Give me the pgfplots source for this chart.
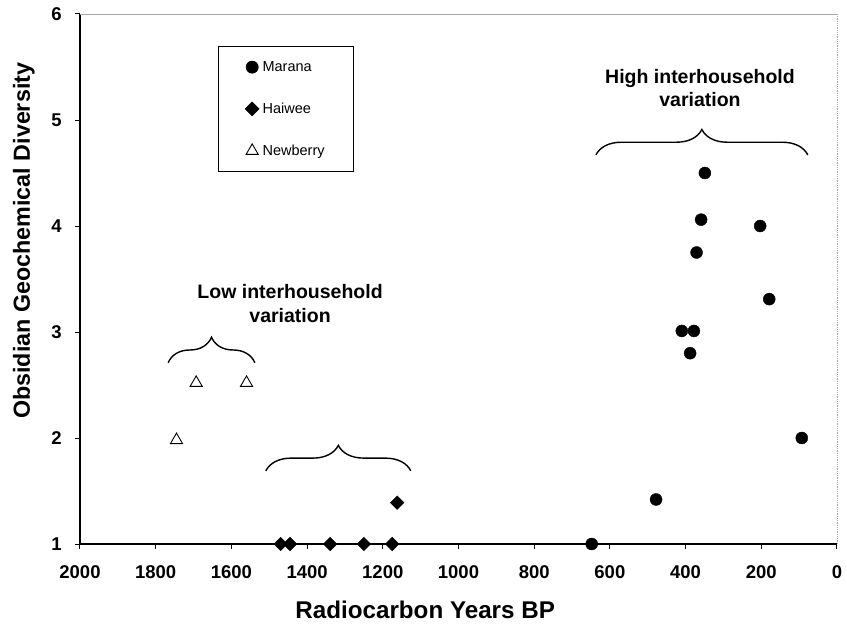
\documentclass[border=0pt]{standalone}
\usepackage{pgfplots}
\pgfplotsset{compat=1.18}
\usepackage{fontspec}
\setmainfont{Liberation Sans}
\usetikzlibrary{decorations.pathreplacing}
\begin{document}
\begin{tikzpicture}
\useasboundingbox (-80pt,-81pt) rectangle (767pt,544pt);
\begin{axis}[
  at={(0pt,0pt)}, anchor=south west,
  scale only axis, width=757pt, height=530pt,
  xmin=0, xmax=2000, ymin=1, ymax=6,
  x dir=reverse,
  axis x line*=bottom, axis y line*=left,
  axis line style={black, line width=1.3pt},
  xtick={0,200,...,2000}, ytick={1,2,3,4,5,6},
  tick align=outside, major tick length=5pt,
  tick style={black, line width=1pt},
  /pgf/number format/assume math mode=true,
  /pgf/number format/1000 sep={},
  tick label style={font=\fontsize{18.5}{22}\selectfont\bfseries, inner sep=0pt},
  xticklabel style={anchor=base, yshift=-29pt},
  yticklabel style={anchor=east, xshift=-13pt},
  xlabel={Radiocarbon Years BP},
  ylabel={Obsidian Geochemical Diversity},
  label style={font=\fontsize{24.2}{28}\selectfont\bfseries},
  xlabel style={at={(axis description cs:0.456,-0.1415)}, anchor=base, inner sep=0pt},
  ylabel style={at={(axis description cs:-0.074,0.572)}, anchor=center, inner sep=0pt, font=\fontsize{23.3}{28}\selectfont\bfseries},
  clip=false,
  legend style={at={(rel axis cs:0.1823,0.9396)}, anchor=north west,
    draw=black, line width=0.8pt, font=\fontsize{14.5}{17}\selectfont,
    inner xsep=27pt, inner ysep=13pt, row sep=26pt},
  legend cell align=left,
  legend image code/.code={\draw[mark repeat=2,mark phase=2,#1] plot coordinates {(0pt,0pt)(5pt,0pt)(14pt,0pt)}; \path (0pt,0pt) (13pt,0pt);},
]
\addplot[only marks, mark=*, mark size=6pt, black] coordinates {
(648,1.00) (478,1.42) (349,4.50) (359,4.06) (203,4.00) (371,3.75)
(179,3.31) (410,3.01) (378,3.01) (388,2.80) (93,2.00)};
\addlegendentry{Marana}
\addplot[only marks, mark=square*, mark size=4.8pt, mark options={rotate=45}, black] coordinates {
(1470,1.00) (1445,1.00) (1339,1.00) (1250,1.00) (1175,1.00) (1162,1.39)};
\addlegendentry{Haiwee}
\addplot[only marks, mark=triangle*, mark size=7pt, mark options={fill=white, draw=black, line width=0.9pt}] coordinates {
(1745,1.98) (1693,2.52) (1560,2.52)};
\addlegendentry{Newberry}

\draw[gray!70, line width=0.8pt] (rel axis cs:0,1) -- (rel axis cs:1,1);
\draw[gray!70, line width=0.8pt, densely dotted] (rel axis cs:1,0) -- (rel axis cs:1,1);

\draw[decorate, decoration={brace, amplitude=25.5pt}, line width=1.4pt] (axis cs:1767,2.71) -- (axis cs:1538,2.71);
\draw[decorate, decoration={brace, amplitude=25.5pt}, line width=1.4pt] (axis cs:1509,1.69) -- (axis cs:1126,1.69);
\draw[decorate, decoration={brace, amplitude=25.5pt}, line width=1.4pt] (axis cs:637,4.67) -- (axis cs:77,4.67);

\node[anchor=base, inner sep=0pt, font=\fontsize{19.5}{24}\selectfont\bfseries] at (axis cs:1445,3.32) {Low interhousehold};
\node[anchor=base, inner sep=0pt, font=\fontsize{19.5}{24}\selectfont\bfseries] at (axis cs:1445,3.085) {variation};
\node[anchor=base, inner sep=0pt, font=\fontsize{19.5}{24}\selectfont\bfseries] at (axis cs:362,5.349) {High interhousehold};
\node[anchor=base, inner sep=0pt, font=\fontsize{19.5}{24}\selectfont\bfseries] at (axis cs:362,5.123) {variation};
\end{axis}
\end{tikzpicture}
\end{document}
